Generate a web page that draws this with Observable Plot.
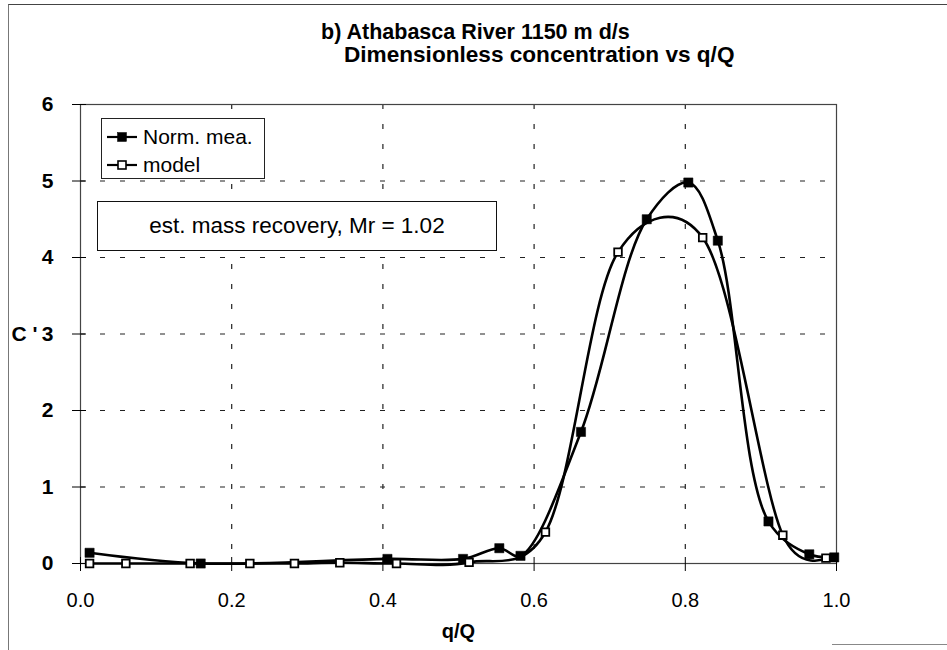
<!DOCTYPE html>
<html>
<head>
<meta charset="utf-8">
<script src="https://cdn.jsdelivr.net/npm/d3@7"></script>
<script src="https://cdn.jsdelivr.net/npm/@observablehq/plot@0.6"></script>
<style>
  body { margin: 0; background: #fff; }
  #wrap { position: relative; width: 947px; height: 650px; overflow: hidden; background: #fff;
          font-family: "Liberation Sans", Arial, sans-serif; color: #000; }
  #wrap svg.chart { position: absolute; left: 0; top: 0; }
  .border { position: absolute; left: 8px; top: 4px; width: 1200px; height: 650px;
            border-left: 1px solid #777; border-top: 1.5px solid #444; }
  .border2 { position: absolute; left: 832px; top: 644px; width: 200px; height: 0;
            border-top: 1.5px solid #888; }
  .title { position: absolute; font-weight: bold; white-space: nowrap; line-height: 1; }
  .legend { position: absolute; left: 101px; top: 118px; width: 164px; height: 61px;
            border: 1px solid #222; background: #fff; box-sizing: border-box; }
  .legend .row { position: absolute; left: 5px; height: 26px; display: flex; align-items: center; font-size: 21px; white-space: nowrap; }
  .legend svg { margin-right: 6px; }
  .note { position: absolute; left: 97px; top: 201px; width: 400px; height: 50px; box-sizing: border-box;
          border: 1.5px solid #111; background: #fff; font-size: 22.5px; display: flex; align-items: center; justify-content: center; }
</style>
</head>
<body>
<div id="wrap"><div class="border"></div><div class="border2"></div></div>
<script>
// ---- data ----
const measX = [0.012, 0.159, 0.406, 0.506, 0.554, 0.582, 0.662, 0.749, 0.804, 0.843, 0.910, 0.964, 0.997];
const measY = [0.14, 0.00, 0.06, 0.06, 0.20, 0.10, 1.72, 4.50, 4.98, 4.22, 0.55, 0.12, 0.08];
const modelX = [0.012, 0.060, 0.145, 0.224, 0.283, 0.343, 0.418, 0.514, 0.615, 0.711, 0.823, 0.929, 0.986];
const modelY = [0.00, 0.00, 0.00, 0.00, 0.00, 0.01, 0.00, 0.015, 0.41, 4.07, 4.26, 0.37, 0.07];
const seriesNames = ["Norm. mea.", "model"];
const xTicks = [0.0, 0.2, 0.4, 0.6, 0.8, 1.0];
const yTicks = [0, 1, 2, 3, 4, 5, 6];
const xGrid = [0.2, 0.4, 0.6, 0.8];
const yGrid = [1, 2, 3, 4, 5];
const titleLine1 = "b) Athabasca River 1150 m d/s";
const titleLine2 = "Dimensionless concentration vs q/Q";
const xLabel = "q/Q";
const yLabel = "C '";
const noteText = "est. mass recovery, Mr = 1.02";

const meas = measX.map((x, i) => ({x, y: measY[i]}));
const model = modelX.map((x, i) => ({x, y: modelY[i]}));

const font = "'Liberation Sans', Arial, sans-serif";
const chart = Plot.plot({
  width: 947,
  height: 650,
  marginLeft: 80,
  marginRight: 111,
  marginTop: 104,
  marginBottom: 87,
  style: {fontFamily: font, background: "transparent", color: "#000", overflow: "visible"},
  x: {domain: [0, 1]},
  y: {domain: [0, 6]},
  marks: [
    Plot.ruleX(xGrid, {stroke: "#222", strokeWidth: 1.2, strokeDasharray: "5,15"}),
    Plot.ruleY(yGrid, {stroke: "#222", strokeWidth: 1.2, strokeDasharray: "5,15"}),
    Plot.frame({stroke: "#444", strokeWidth: 1.2}),
    Plot.axisX({ticks: xTicks, tickFormat: d3.format(".1f"), tickSize: 8, tickPadding: 21,
                fontSize: 20, label: null}),
    Plot.axisX({ticks: xTicks, tickSize: -6, tickFormat: () => "", label: null}),
    Plot.axisY({ticks: yTicks, tickFormat: d3.format("d"), tickSize: 8, tickPadding: 19,
                fontSize: 21, fontWeight: "bold", label: null}),
    Plot.axisY({ticks: yTicks, tickSize: -6, tickFormat: () => "", label: null}),
    Plot.text([xLabel], {frameAnchor: "bottom", dy: 74, fontSize: 20, fontWeight: "bold", text: d => d}),
    Plot.text([yLabel], {frameAnchor: "left", y: () => 3, dx: -43, textAnchor: "end", fontSize: 21, fontWeight: "bold", text: d => d}),
    Plot.line(meas, {x: "x", y: "y", curve: "catmull-rom", tension: 0.5, stroke: "#000", strokeWidth: 2.6}),
    Plot.line(model, {x: "x", y: "y", curve: "catmull-rom", tension: 0.15, stroke: "#000", strokeWidth: 2.6}),
    Plot.dot(meas, {x: "x", y: "y", symbol: "square", r: 5.2, fill: "#000", stroke: "#000", strokeWidth: 0.5}),
    Plot.dot(model, {x: "x", y: "y", symbol: "square", r: 4.3, fill: "#fff", stroke: "#000", strokeWidth: 1.8})
  ]
});
chart.classList.add("chart");
const wrap = document.getElementById("wrap");
wrap.appendChild(chart);

function addDiv(cls, html, css) {
  const d = document.createElement("div");
  d.className = cls;
  d.innerHTML = html;
  Object.assign(d.style, css || {});
  wrap.appendChild(d);
  return d;
}
addDiv("title", titleLine1, {left: "321px", top: "22px", fontSize: "21.5px"});
addDiv("title", titleLine2, {left: "344px", top: "44px", fontSize: "22.6px"});

const symSvg = (filled) =>
  `<svg width="30" height="12" viewBox="0 0 30 12"><line x1="0" y1="6" x2="30" y2="6" stroke="#000" stroke-width="2.2"/>` +
  `<rect x="${filled ? 10.5 : 11}" y="${filled ? 1.5 : 2}" width="${filled ? 9 : 8}" height="${filled ? 9 : 8}" fill="${filled ? "#000" : "#fff"}" stroke="#000" stroke-width="${filled ? 0.5 : 1.6}"/></svg>`;
const legend = addDiv("legend", "");
seriesNames.forEach((name, i) => {
  const r = document.createElement("div");
  r.className = "row";
  r.style.top = (i === 0 ? 5 : 33) + "px";
  r.innerHTML = symSvg(i === 0) + `<span>${name}</span>`;
  legend.appendChild(r);
});
addDiv("note", noteText);
</script>
</body>
</html>
